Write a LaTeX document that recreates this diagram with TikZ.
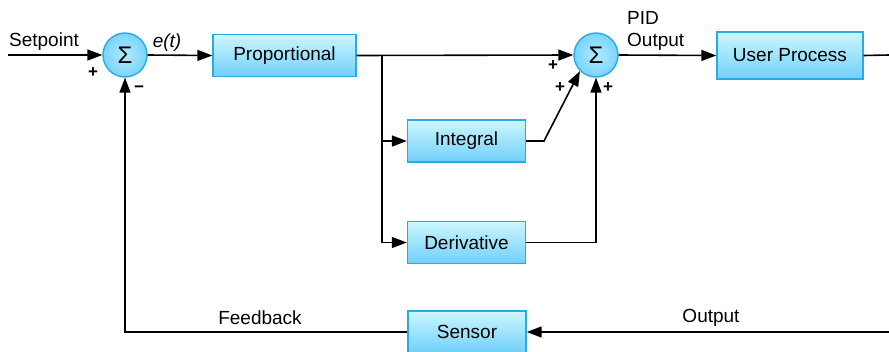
\documentclass[tikz,border=0pt]{standalone}
\usepackage{fontspec}
\setmainfont{Liberation Sans}
\usetikzlibrary{arrows.meta,calc}
\definecolor{boxtop}{RGB}{205,246,255}
\definecolor{boxbot}{RGB}{112,208,250}
\definecolor{boxline}{RGB}{40,170,228}
\tikzset{
  blockbox/.style={draw=boxline, line width=1.4pt, top color=boxtop, bottom color=boxbot,
    minimum height=42pt, inner sep=0pt, font=\fontsize{19}{22}\selectfont},
  sumnode/.style={circle, draw=boxline, line width=1.4pt, inner color=boxtop!70!boxbot, outer color=boxbot!90!boxtop,
    minimum size=44pt, inner sep=0pt, font=\fontsize{24}{26}\selectfont},
  conn/.style={line width=1.6pt, draw=black},
  arr/.style={conn, -{Triangle[length=15pt,width=11pt]}},
  lbl/.style={font=\fontsize{19}{22}\selectfont, inner sep=0pt},
  sgn/.style={font=\fontsize{17}{20}\selectfont\bfseries, inner sep=0pt}
}
\begin{document}
\begin{tikzpicture}[x=1pt,y=-1pt]
\useasboundingbox (0,0) rectangle (889,351);
% nodes
\node[sumnode] (sum1) at (125,55) {Σ};
\node[blockbox, minimum width=143pt] (prop) at (284.5,55.5) {Proportional};
\node[sumnode] (sum2) at (596,55) {Σ};
\node[blockbox, minimum width=146pt, minimum height=47pt] (up) at (790,55.5) {User Process};
\node[blockbox, minimum width=118pt] (integ) at (466.5,141) {Integral};
\node[blockbox, minimum width=118pt] (deriv) at (466.5,242.5) {Derivative};
\node[blockbox, minimum width=118pt] (sensor) at (467,332) {Sensor};
% coordinates
\coordinate (sp) at (8,55);
\coordinate (br) at (382,55);
\coordinate (ic) at (544,141);
\coordinate (outR) at (889,55);
\coordinate (inR) at (889,332);
% connectors
\draw[arr] (sp) -- (sum1.west);
\draw[arr] (sum1.east) -- (prop.west);
\draw[arr] (prop.east) -- (sum2.west);
\draw[arr] (br) |- (integ.west);
\draw[arr] (br) |- (deriv.west);
\draw[arr] (integ.east) -- (ic) -- (sum2.south west);
\draw[arr] (deriv.east) -| (sum2.south);
\draw[arr] (sum2.east) -- (up.west);
\draw[conn] (up.east) -- (outR);
\draw[arr] (inR) -- (sensor.east);
\draw[arr] (sensor.west) -| (sum1.south);
% labels
\node[lbl] (tsp) at (44,42) {Setpoint};
\node[lbl] (tet) at (167,43) {\itshape e(t)};
\node[sgn] (p1) at (93,73) {+};
\node[sgn] (m1) at (139,89) {−};
\node[sgn] (p2) at (553,66) {+};
\node[sgn] (p3) at (560,88) {+};
\node[sgn] (p4) at (608,88) {+};
\node[lbl, align=left, anchor=west] (tpid) at (627,31) {PID\\Output};
\node[lbl] (tfb) at (260,318) {Feedback};
\node[lbl] (tout) at (711,318) {Output};
\end{tikzpicture}
\end{document}
